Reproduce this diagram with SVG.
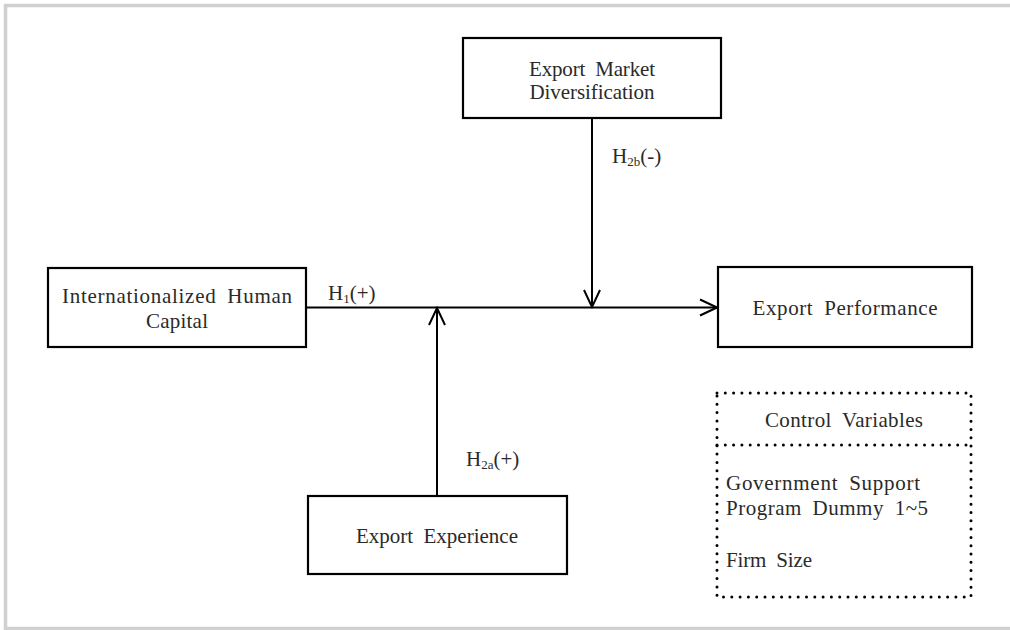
<svg xmlns="http://www.w3.org/2000/svg" width="1010" height="630" viewBox="0 0 1010 630">
<style>
.box{fill:#fff;stroke:#000;stroke-width:2.2}
.dot{fill:none;stroke:#000;stroke-width:3;stroke-linecap:round;stroke-dasharray:0 8.3}
.t{font-family:"Liberation Serif","Times New Roman",serif;font-size:21px;fill:#2a2a2a;word-spacing:5px}
.c{text-anchor:middle}
.sub{font-size:13px}
.ln{fill:none;stroke:#000;stroke-width:2}
</style>
<defs>
<marker id="arr" viewBox="0 0 20 20" refX="18" refY="10" markerWidth="20" markerHeight="20" markerUnits="userSpaceOnUse" orient="auto">
<path d="M1,2 L18,10 L1,18" fill="none" stroke="#000" stroke-width="2"/>
</marker>
</defs>
<rect x="0" y="0" width="1010" height="630" fill="#fff"/>
<rect x="5.5" y="5.5" width="1030" height="623" fill="none" stroke="#d0d0d0" stroke-width="3.5"/>
<g id="connectors">
<line class="ln" x1="306" y1="307.5" x2="717" y2="307.5" marker-end="url(#arr)"/>
<line class="ln" x1="592" y1="118" x2="592" y2="307" marker-end="url(#arr)"/>
<line class="ln" x1="437" y1="496" x2="437" y2="308" marker-end="url(#arr)"/>
<text class="t" x="328" y="300">H<tspan class="sub" dy="3">1</tspan><tspan dy="-3">(+)</tspan></text>
<text class="t" x="612" y="163">H<tspan class="sub" dy="3">2b</tspan><tspan dy="-3">(-)</tspan></text>
<text class="t" x="466" y="466">H<tspan class="sub" dy="3">2a</tspan><tspan dy="-3">(+)</tspan></text>
</g>
<g id="node-emd">
<rect class="box" x="463" y="38" width="258" height="80"/>
<text class="t c" x="592" y="76" textLength="126" lengthAdjust="spacing">Export Market</text>
<text class="t c" x="592" y="99" textLength="125" lengthAdjust="spacing">Diversification</text>
</g>
<g id="node-ihc">
<rect class="box" x="48" y="268" width="258" height="79"/>
<text class="t c" x="177" y="303" textLength="230" lengthAdjust="spacing">Internationalized Human</text>
<text class="t c" x="177" y="328" textLength="62" lengthAdjust="spacing">Capital</text>
</g>
<g id="node-ep">
<rect class="box" x="718" y="267" width="254" height="80"/>
<text class="t c" x="845" y="315" textLength="185" lengthAdjust="spacing">Export Performance</text>
</g>
<g id="node-ee">
<rect class="box" x="308" y="496" width="259" height="78"/>
<text class="t c" x="437" y="543" textLength="162" lengthAdjust="spacing">Export Experience</text>
</g>
<g id="node-cv">
<rect class="dot" x="717" y="393" width="254" height="204"/>
<line class="dot" x1="717" y1="445" x2="971" y2="445"/>
<text class="t c" x="844" y="427" textLength="158" lengthAdjust="spacing">Control Variables</text>
<text class="t" x="726" y="490" textLength="194" lengthAdjust="spacing">Government Support</text>
<text class="t" x="726" y="515" textLength="202" lengthAdjust="spacing">Program Dummy 1~5</text>
<text class="t" x="726" y="567" textLength="86" lengthAdjust="spacing">Firm Size</text>
</g>
</svg>
